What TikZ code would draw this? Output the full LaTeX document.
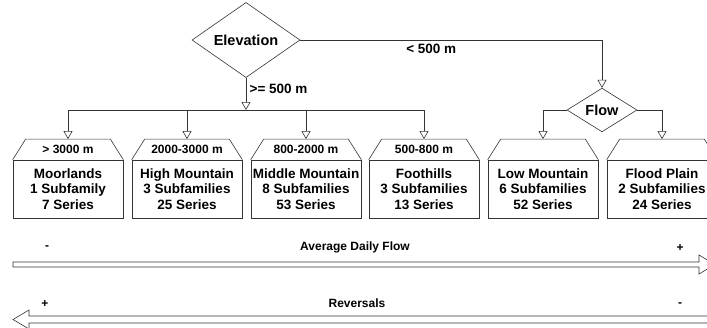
\documentclass[tikz,border=0pt]{standalone}
\usepackage{fontspec}
\setmainfont{Liberation Sans}
\usetikzlibrary{shapes.geometric,arrows.meta}

\tikzset{
  decision/.style={diamond, draw=black!80, inner sep=0pt, font=\bfseries\fontsize{14.5}{16}\selectfont},
  unit/.style={draw=black!80, minimum width=110pt, minimum height=58pt, inner sep=0pt, align=center,
    font=\bfseries\fontsize{13.5}{15.5}\selectfont},
  altband/.style={minimum width=84pt, minimum height=20pt, inner sep=0pt, font=\bfseries\fontsize{12}{14}\selectfont},
  flowto/.style={-{Triangle[open,length=8pt,width=9pt]}},
  branch/.style={font=\bfseries\fontsize{13.5}{15}\selectfont},
  scalelabel/.style={font=\bfseries\fontsize{12}{14}\selectfont}
}

\begin{document}
\begin{tikzpicture}[x=1pt,y=-1pt,line width=0.6pt]
    \useasboundingbox (0,0) rectangle (707,327);
    % Decisions
    \node[decision, minimum width=108pt, minimum height=57pt] (elev) at (246,40) {Elevation};
    \node[decision, minimum width=70pt, minimum height=36pt] (flow) at (602,110) {Flow};
    % River types
    \foreach \n/\x/\r/\t in {1/68/{> 3000 m}/{Moorlands\\1 Subfamily\\7 Series},
        2/187/{2000-3000 m}/{High Mountain\\3 Subfamilies\\25 Series},
        3/306/{800-2000 m}/{Middle Mountain\\8 Subfamilies\\53 Series},
        4/424/{500-800 m}/{Foothills\\3 Subfamilies\\13 Series},
        5/543/{}/{Low Mountain\\6 Subfamilies\\52 Series},
        6/662/{}/{Flood Plain\\2 Subfamilies\\24 Series}} {
      \node[unit] (b\n) at (\x,189) {\t};
      \node[altband, above] (h\n) at (b\n.north) {\r};
      \draw[black!80] (b\n.north west) -- (h\n.north west) -- (h\n.north east) -- (b\n.north east);
    }
    % Connectors
    \coordinate (bus) at (246,110);
    \draw[flowto, black!80] (elev.south) -- (bus) node[pos=0.33, right, branch, black] (high) {>= 500 m};
    \draw[black!80] (h1 |- bus) -- (h4 |- bus);
    \foreach \n in {1,...,4}
      \draw[flowto, black!80] (h\n |- bus) -- (h\n.north);
    \draw[flowto, black!80] (elev.east) -| node[pos=0.217, below, branch, black] (low) {< 500 m} (flow.north);
    \draw[flowto, black!80] (flow.west) -| (h5.north);
    \draw[flowto, black!80] (flow.east) -| (h6.north);
    % Scales
    \draw[black!80] (13,262) -- (699,262) -- (699,255) -- (715,264.5) -- (699,274) -- (699,267) -- (13,267) -- cycle;
    \node[scalelabel] (adfmin) at (47,248) {-};
    \node[scalelabel] (adf) at (355,247) {Average Daily Flow};
    \node[scalelabel] (adfmax) at (680,248) {+};
    \draw[black!80] (720,316) -- (29,316) -- (29,310) -- (13,319.5) -- (29,329) -- (29,323) -- (720,323) -- cycle;
    \node[scalelabel] (revmax) at (45,304) {+};
    \node[scalelabel] (rev) at (357,303) {Reversals};
    \node[scalelabel] (revmin) at (680,305) {-};
\end{tikzpicture}
\end{document}
